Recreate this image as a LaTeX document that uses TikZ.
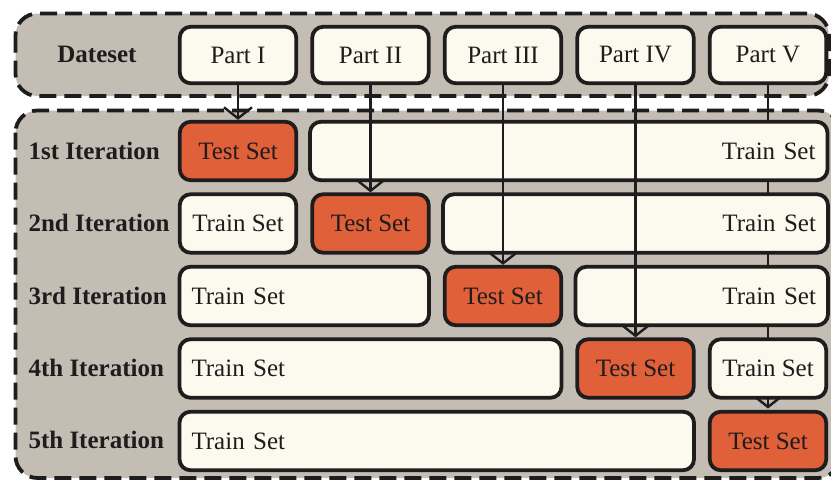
\documentclass[tikz,border=0pt]{standalone}
\usepackage{fontspec}
\setmainfont{Liberation Serif}
\usetikzlibrary{arrows.meta}
\definecolor{bggray}{RGB}{195,189,180}
\definecolor{cream}{RGB}{252,249,238}
\definecolor{orng}{RGB}{224,96,58}
\definecolor{ink}{RGB}{30,28,28}
\tikzset{
  grp/.style={draw=ink, fill=bggray, line width=3.8pt, dash pattern=on 17pt off 8pt, rounded corners=22pt},
  box/.style={draw=ink, line width=3.8pt, rounded corners=11pt, minimum height=58.5pt, inner sep=0pt, font=\fontsize{25}{25}\selectfont, text=ink},
  part/.style={box, fill=cream, minimum width=116.5pt, minimum height=56.5pt},
  testbox/.style={box, fill=orng, minimum width=116.5pt},
  trainbox/.style={box, fill=cream, inner xsep=12pt},
  lbl/.style={font=\fontsize{25}{25}\selectfont\bfseries, text=ink},
  arr/.style={draw=ink, line width=2.4pt, -{Straight Barb[length=11pt,width=28pt,line width=2.4pt]}},
}
\begin{document}
\begin{tikzpicture}[x=1pt,y=-1pt]
\useasboundingbox (0,0) rectangle (831,480);
\fill[white] (0,0) rectangle (831,480);
% group boxes
\draw[grp] (15.5,13.5) rectangle (829,96);
\draw[grp] (15.5,110.5) rectangle (840,478);
% labels
\node[lbl] (ds) at (97,54) {Dateset};
\node[lbl, anchor=west] (l1) at (25,151) {1st Iteration};
\node[lbl, anchor=west] (l2) at (25,223) {2nd Iteration};
\node[lbl, anchor=west] (l3) at (25,296) {3rd Iteration};
\node[lbl, anchor=west] (l4) at (25,368) {4th Iteration};
\node[lbl, anchor=west] (l5) at (25,440) {5th Iteration};
% part nodes
\node[part] (p1) at (238,55) {Part I};
\node[part] (p2) at (370.5,55) {Part II};
\node[part] (p3) at (503,55) {Part III};
\node[part] (p4) at (635.5,55) {Part IV};
\node[part] (p5) at (768,55) {Part V};
% arrow of Part V behind the boxes
\coordinate (c5) at (768,408.5);
\draw[arr] (p5.south) -- (c5);
% row 1
\node[testbox] (t1) at (238,151) {Test Set};
\node[trainbox, text width=493.5pt, align=right] (r1b) at (568.75,151) {Train Set};
% row 2
\node[trainbox, minimum width=116.5pt] (r2a) at (238,223.5) {Train Set};
\node[testbox] (t2) at (370.5,223.5) {Test Set};
\node[trainbox, text width=361pt, align=right] (r2b) at (635.5,223.5) {Train Set};
% row 3
\node[trainbox, text width=225.5pt, align=left] (r3a) at (304.25,296) {Train Set};
\node[testbox] (t3) at (503,296) {Test Set};
\node[trainbox, text width=228.5pt, align=right] (r3b) at (701.75,296) {Train Set};
% row 4
\node[trainbox, text width=358pt, align=left] (r4a) at (370.5,368.5) {Train Set};
\node[testbox] (t4) at (635.5,368.5) {Test Set};
\node[trainbox, minimum width=116.5pt] (r4b) at (768,368.5) {Train Set};
% row 5
\node[trainbox, text width=490.5pt, align=left] (r5a) at (436.75,441) {Train Set};
\node[testbox] (t5) at (768,441) {Test Set};
% arrows
\draw[arr] (p1.south) -- (t1.north);
\draw[arr] (p2.south) -- (t2.north);
\draw[arr] (p3.south) -- (t3.north);
\draw[arr] (p4.south) -- (t4.north);
\end{tikzpicture}
\end{document}
